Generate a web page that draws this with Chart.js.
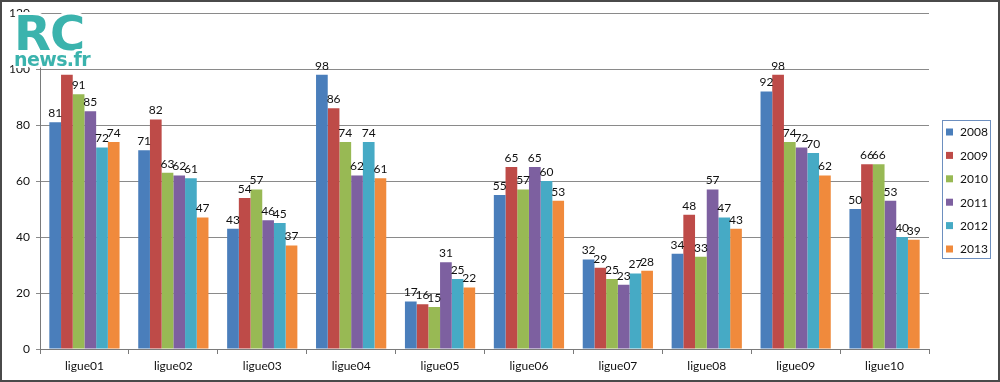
<!DOCTYPE html>
<html>
<head>
<meta charset="utf-8">
<script src="https://cdn.jsdelivr.net/npm/chart.js@4/dist/chart.umd.min.js"></script>
<style>
  html, body { margin:0; padding:0; background:#fff; }
  #wrap { position:relative; width:1000px; height:382px; overflow:hidden; }
  #c { position:absolute; left:0; top:0; }
  #frame { position:absolute; left:0; top:0; width:996px; height:378px; border:2px solid #4a4a4a; pointer-events:none; }
  #logo { position:absolute; left:0; top:0; width:100px; height:75px; pointer-events:none; font-family:"DejaVu Sans", sans-serif; color:#3bb3ad; }
  #logo .rc { position:absolute; left:14px; top:9px; font-size:48px; line-height:48px; font-weight:bold; letter-spacing:-1px;
    text-shadow: 3px 0 #fff, -3px 0 #fff, 0 3px #fff, 0 -3px #fff, 2px 2px #fff, -2px -2px #fff, 2px -2px #fff, -2px 2px #fff; }
  #logo .nw { position:absolute; left:14px; top:49px; font-size:19px; line-height:20px; font-weight:bold; letter-spacing:-0.6px;
    text-shadow: 2px 0 #fff, -2px 0 #fff, 0 2px #fff, 0 -2px #fff, 2px 2px #fff, -2px -2px #fff, 2px -2px #fff, -2px 2px #fff; }
</style>
</head>
<body>
<div id="wrap">
  <canvas id="c" width="1000" height="382"></canvas>
  <div id="logo"><div class="rc">RC</div><div class="nw">news.fr</div></div>
  <div id="frame"></div>
</div>
<script>
const categories = ["ligue01","ligue02","ligue03","ligue04","ligue05","ligue06","ligue07","ligue08","ligue09","ligue10"];
const seriesNames = ["2008","2009","2010","2011","2012","2013"];
const s2008 = [81, 71, 43, 98, 17, 55, 32, 34, 92, 50];
const s2009 = [98, 82, 54, 86, 16, 65, 29, 48, 98, 66];
const s2010 = [91, 63, 57, 74, 15, 57, 25, 33, 74, 66];
const s2011 = [85, 62, 46, 62, 31, 65, 23, 57, 72, 53];
const s2012 = [72, 61, 45, 74, 25, 60, 27, 47, 70, 40];
const s2013 = [74, 47, 37, 61, 22, 53, 28, 43, 62, 39];
const yTicks = [0, 20, 40, 60, 80, 100, 120];
// value labels not visible in the picture (hidden under the logo): [seriesIndex, categoryIndex]
const hiddenLabels = [[1, 0]];

const seriesData = [s2008, s2009, s2010, s2011, s2012, s2013];
const colors = ["#4a7ebb", "#be4b48", "#98b954", "#7d60a0", "#46aac5", "#f08a3c"];
const FONT = "Lato, 'Open Sans', sans-serif";

const datasets = seriesNames.map((n, i) => ({
  label: n,
  data: seriesData[i],
  backgroundColor: colors[i],
  borderWidth: 0,
  categoryPercentage: 0.79,
  barPercentage: 1.0
}));

const labelPlugin = {
  id: 'vals',
  afterDatasetsDraw(chart) {
    const ctx = chart.ctx;
    ctx.save();
    ctx.font = "12px " + FONT;
    ctx.fillStyle = "#111";
    ctx.textAlign = "center";
    ctx.textBaseline = "bottom";
    chart.data.datasets.forEach((ds, di) => {
      const meta = chart.getDatasetMeta(di);
      meta.data.forEach((el, i) => {
        if (hiddenLabels.some(h => h[0] === di && h[1] === i)) return;
        ctx.fillText(String(ds.data[i]), el.x, el.y - 3);
      });
    });
    ctx.restore();
  }
};

const legendPlugin = {
  id: 'boxLegend',
  afterDraw(chart) {
    const ctx = chart.ctx;
    ctx.save();
    const bx = 942, by = 120, bw = 48, bh = 138;
    ctx.strokeStyle = "#6d8fbf";
    ctx.lineWidth = 1;
    ctx.strokeRect(bx + 0.5, by + 0.5, bw, bh);
    ctx.font = "12px " + FONT;
    ctx.textBaseline = "middle";
    ctx.textAlign = "left";
    seriesNames.forEach((n, i) => {
      const y = 132 + i * 23.4;
      ctx.fillStyle = colors[i];
      ctx.fillRect(946, y - 3.5, 7, 7);
      ctx.fillStyle = "#111";
      ctx.fillText(n, 960, y + 0.5);
    });
    ctx.restore();
  }
};

new Chart(document.getElementById('c'), {
  type: 'bar',
  data: { labels: categories, datasets },
  options: {
    responsive: false,
    animation: false,
    devicePixelRatio: 1,
    layout: { padding: { left: 0, top: 13, right: 71, bottom: 0 } },
    plugins: {
      legend: { display: false },
      tooltip: { enabled: false }
    },
    scales: {
      x: {
        grid: {
          display: true,
          drawOnChartArea: false,
          drawTicks: true,
          tickLength: 5,
          offset: true,
          color: "#7a7a7a"
        },
        border: { display: true, color: "#7a7a7a", width: 1 },
        ticks: {
          font: { family: FONT, size: 12 },
          color: "#111",
          padding: 5
        },
        afterFit(scale) { scale.height = 33; }
      },
      y: {
        min: 0,
        max: 120,
        afterBuildTicks(scale) { scale.ticks = yTicks.map(v => ({ value: v })); },
        grid: {
          color: "#8a8a8a",
          lineWidth: 1,
          drawTicks: true,
          tickLength: 4
        },
        border: { display: true, color: "#7a7a7a", width: 1 },
        ticks: {
          font: { family: FONT, size: 12 },
          color: "#111",
          padding: 6
        },
        afterFit(scale) { scale.width = 40; }
      }
    }
  },
  plugins: [labelPlugin, legendPlugin]
});
</script>
</body>
</html>
